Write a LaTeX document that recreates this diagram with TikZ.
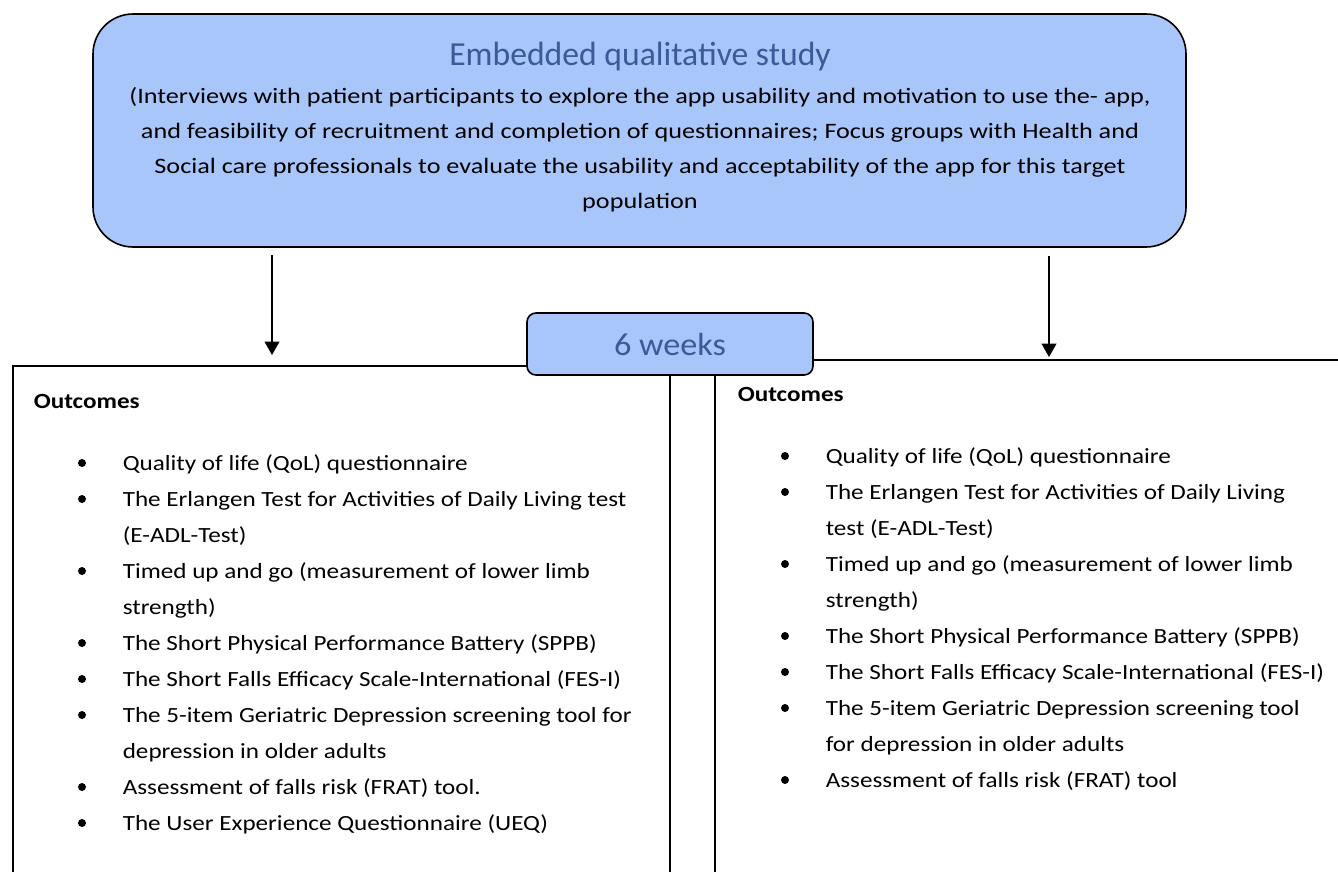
\documentclass[tikz,border=0pt]{standalone}
\usepackage{fontspec}
\setmainfont{Carlito}
\newfontfamily\listfont[FakeStretch=1.16]{Carlito}
\newfontfamily\topfont[FakeStretch=1.19]{Carlito}
\newfontfamily\sixfont[FakeStretch=1.07]{Carlito}
\usetikzlibrary{arrows.meta}
\definecolor{boxfill}{HTML}{A9C6FA}
\definecolor{titleblue}{HTML}{3A5A98}
\begin{document}
\begin{tikzpicture}[x=0.75pt,y=-0.75pt, line width=1.2pt,
  txt/.style={inner sep=0pt, font=\listfont\fontsize{16.25}{18}\selectfont},
  ctr/.style={inner sep=0pt, anchor=base, font=\topfont\fontsize{16.5}{18}\selectfont},
  item/.style={txt, anchor=base west},
  head/.style={inner sep=0pt, anchor=base west, font=\listfont\fontsize{16.25}{18}\selectfont\bfseries},
  bul/.style={circle, fill=black, inner sep=0pt, minimum size=6pt},
  bluebox/.style={draw=black, fill=boxfill, line width=1.2pt},
  ttl/.style={inner sep=0pt, anchor=base, text=titleblue},
  arr/.style={-{Triangle[width=11pt,length=10pt]}, line width=1.2pt}]
\useasboundingbox (0,0) rectangle (1338,871);

% outcome boxes (open at bottom / right)
\draw (13,900) |- (670,366) -- (670,900);
\draw (715,900) |- (1345,360);

% top box
\node[bluebox, rounded corners=30pt, minimum width=819.75pt, minimum height=174.75pt] (top) at (639.5,130.5) {};
\node[ttl, font=\fontsize{25.25}{28}\selectfont] (title) at (640,65) {Embedded qualitative study};
\node[ctr] (t1) at (640,103) {(Interviews with patient participants to explore the app usability and motivation to use the- app,};
\node[ctr] (t2) at (640,138) {and feasibility of recruitment and completion of questionnaires; Focus groups with Health and};
\node[ctr] (t3) at (640,173) {Social care professionals to evaluate the usability and acceptability of the app for this target};
\node[ctr] (t4) at (640,208) {population};

% 6 weeks box
\node[bluebox, rounded corners=6.75pt, minimum width=214.5pt, minimum height=46.5pt] (six) at (670,344) {};
\node[ttl, font=\sixfont\fontsize{24}{27}\selectfont] (sixt) at (670,355) {6 weeks};

% arrows
\coordinate (L) at (272,355);
\coordinate (R) at (1049,357);
\draw[arr] ([yshift=-5.25pt]top.south -| L) -- (L);
\draw[arr] ([yshift=-6pt]top.south -| R) -- (R);

% left outcomes
\node[head] (lh) at (33,408) {Outcomes};
\foreach \n/\y in {1/470,2/506,3/578,4/650,5/686,6/722,7/794,8/830}
  \node[bul] (lb\n) at (82,\y-7) {};
\node[item] (l1)  at (122,470) {Quality of life (QoL) questionnaire};
\node[item] (l2)  at (122,506) {The Erlangen Test for Activities of Daily Living test};
\node[item] (l2b) at (122,542) {(E-ADL-Test)};
\node[item] (l3)  at (122,578) {Timed up and go (measurement of lower limb};
\node[item] (l3b) at (122,614) {strength)};
\node[item] (l4)  at (122,650) {The Short Physical Performance Battery (SPPB)};
\node[item] (l5)  at (122,686) {The Short Falls Efficacy Scale-International (FES-I)};
\node[item] (l6)  at (122,722) {The 5-item Geriatric Depression screening tool for};
\node[item] (l6b) at (122,758) {depression in older adults};
\node[item] (l7)  at (122,794) {Assessment of falls risk (FRAT) tool.};
\node[item] (l8)  at (122,830) {The User Experience Questionnaire (UEQ)};

% right outcomes
\node[head] (rh) at (737,401) {Outcomes};
\foreach \n/\y in {1/463,2/499,3/571,4/643,5/679,6/715,7/787}
  \node[bul] (rb\n) at (785,\y-7) {};
\node[item] (r1)  at (825,463) {Quality of life (QoL) questionnaire};
\node[item] (r2)  at (825,499) {The Erlangen Test for Activities of Daily Living};
\node[item] (r2b) at (825,535) {test (E-ADL-Test)};
\node[item] (r3)  at (825,571) {Timed up and go (measurement of lower limb};
\node[item] (r3b) at (825,607) {strength)};
\node[item] (r4)  at (825,643) {The Short Physical Performance Battery (SPPB)};
\node[item] (r5)  at (825,679) {The Short Falls Efficacy Scale-International (FES-I)};
\node[item] (r6)  at (825,715) {The 5-item Geriatric Depression screening tool};
\node[item] (r6b) at (825,751) {for depression in older adults};
\node[item] (r7)  at (825,787) {Assessment of falls risk (FRAT) tool};
\end{tikzpicture}
\end{document}
